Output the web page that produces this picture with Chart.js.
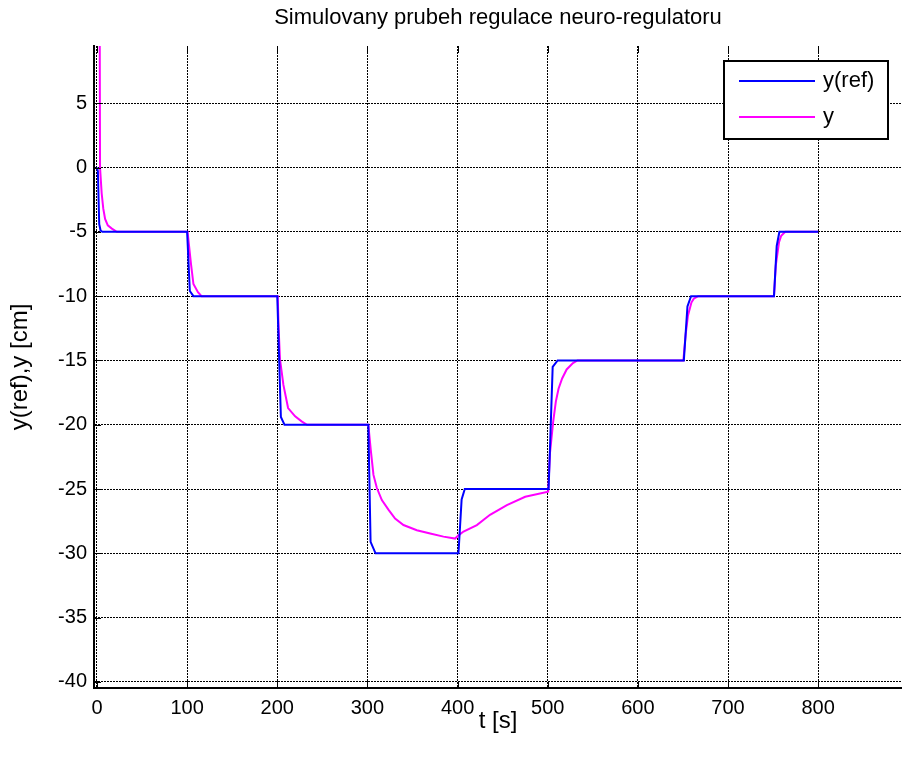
<!DOCTYPE html>
<html>
<head>
<meta charset="utf-8">
<script src="https://cdn.jsdelivr.net/npm/chart.js@4.4.0/dist/chart.umd.min.js"></script>
<style>
  html, body { margin: 0; padding: 0; background: #fff; }
  #wrap { width: 902px; height: 758px; position: relative; }
</style>
</head>
<body>
<div id="wrap"><canvas id="regChart"></canvas></div>
<script>
// reference signal y(ref) [cm] against time [s]
const refTime = [0, 1, 2.5, 4, 6,
  100, 103, 107,
  200, 204, 208,
  301, 303.5, 309,
  401, 404.5, 408,
  501, 505.5, 511,
  651, 655, 659,
  751, 754, 757,
  800];
const refValue = [0, -0.3, -4.4, -4.9, -5,
  -5, -9.6, -10,
  -10, -19.4, -20,
  -20, -29.1, -30,
  -30, -25.8, -25,
  -25, -15.5, -15,
  -15, -10.8, -10,
  -10, -6.1, -5,
  -5];

// regulated output y [cm]
const outTime = [0, 3.4, 5.2, 7, 9, 12, 16.5, 22,
  100.5, 102, 104.3, 107, 112, 116,
  200.5, 201.5, 203, 206.8, 212, 219.8, 227, 233,
  301, 303.7, 306.7, 310.4, 316, 323.3, 330.7, 340, 354.8, 369.6, 384.4, 397.3,
  401, 406.6, 421.4, 436, 454.7, 475, 500.5,
  502.5, 506, 509, 512, 516, 521, 528, 533,
  650.5, 653, 655.6, 659.4, 662, 667,
  751, 753, 756.6, 759, 763.5, 800];
const outValue = [100, 0, -2, -3.2, -4, -4.5, -4.75, -5,
  -5, -6, -7.5, -9.06, -9.7, -10,
  -10, -12.5, -14.9, -16.9, -18.7, -19.35, -19.74, -20,
  -20, -21.95, -23.9, -24.9, -25.86, -26.6, -27.3, -27.8, -28.2, -28.46, -28.7, -28.85,
  -28.6, -28.3, -27.8, -27.0, -26.25, -25.6, -25.2,
  -22.2, -19.8, -18.2, -17.2, -16.4, -15.7, -15.2, -15,
  -15, -13, -11.5, -10.5, -10.2, -10,
  -10, -7.6, -5.8, -5.3, -5, -5];

const xTicks = [0, 100, 200, 300, 400, 500, 600, 700, 800];
const yTicks = [5, 0, -5, -10, -15, -20, -25, -30, -35, -40];

const toPoints = (xs, ys) => xs.map((x, i) => ({ x: x, y: ys[i] }));

const FONT = '"Liberation Sans", Arial, sans-serif';
Chart.defaults.font.family = FONT;
Chart.defaults.color = '#000';

// MATLAB-like inward tick marks on the left, bottom and top edges
const inwardTicks = {
  id: 'inwardTicks',
  afterDraw(chart) {
    const { ctx, chartArea: a, scales: { x, y } } = chart;
    const len = 7;
    ctx.save();
    ctx.strokeStyle = '#000';
    ctx.lineWidth = 1;
    ctx.beginPath();
    xTicks.forEach(v => {
      const px = Math.round(x.getPixelForValue(v)) + 0.5;
      ctx.moveTo(px, a.bottom); ctx.lineTo(px, a.bottom - len);
      ctx.moveTo(px, a.top); ctx.lineTo(px, a.top + len);
    });
    yTicks.forEach(v => {
      const py = Math.round(y.getPixelForValue(v)) + 0.5;
      ctx.moveTo(a.left, py); ctx.lineTo(a.left + len, py);
    });
    ctx.stroke();
    ctx.restore();
  }
};

// boxed legend in the upper right corner of the axes
const legendBox = {
  id: 'legendBox',
  afterDraw(chart) {
    const { ctx, chartArea: a } = chart;
    const w = 164, h = 78;
    const bx = a.right - 14 - w, by = a.top + 15;
    ctx.save();
    ctx.fillStyle = '#fff';
    ctx.fillRect(bx, by, w, h);
    ctx.strokeStyle = '#000';
    ctx.lineWidth = 2;
    ctx.strokeRect(bx, by, w, h);
    ctx.font = '22px ' + FONT;
    ctx.textBaseline = 'middle';
    ctx.textAlign = 'left';
    chart.data.datasets.forEach((ds, i) => {
      const ly = by + 20 + i * 36;
      ctx.strokeStyle = ds.borderColor;
      ctx.lineWidth = 2;
      ctx.beginPath();
      ctx.moveTo(bx + 15, ly);
      ctx.lineTo(bx + 91, ly);
      ctx.stroke();
      ctx.fillStyle = '#000';
      ctx.fillText(ds.label, bx + 99, ly);
    });
    ctx.restore();
  }
};

new Chart(document.getElementById('regChart'), {
  type: 'line',
  data: {
    datasets: [
      {
        label: 'y(ref)',
        data: toPoints(refTime, refValue),
        borderColor: '#0000ff',
        borderWidth: 2,
        pointRadius: 0,
        tension: 0
      },
      {
        label: 'y',
        data: toPoints(outTime, outValue),
        borderColor: '#ff00ff',
        borderWidth: 2,
        pointRadius: 0,
        tension: 0
      }
    ]
  },
  options: {
    responsive: true,
    maintainAspectRatio: false,
    animation: false,
    layout: { padding: 0 },
    plugins: {
      legend: { display: false },
      tooltip: { enabled: false },
      title: {
        display: true,
        fullSize: false,
        text: 'Simulovany prubeh regulace neuro-regulatoru',
        font: { size: 22, weight: 'normal', lineHeight: 1.2 },
        color: '#000',
        padding: { top: 5, bottom: 14.6 }
      }
    },
    scales: {
      x: {
        type: 'linear',
        min: -3.3,
        max: 893,
        afterBuildTicks: s => { s.ticks = xTicks.map(v => ({ value: v })); },
        afterFit: s => { s.height = 70; },
        ticks: { font: { size: 20 }, padding: 8, maxRotation: 0 },
        grid: { color: '#000', lineWidth: 1, drawTicks: false },
        border: { display: true, color: '#000', width: 2, dash: [2, 1] },
        title: { display: true, text: 't [s]', font: { size: 24 }, padding: { top: 0, bottom: 22 } }
      },
      y: {
        min: -40.47,
        max: 9.45,
        afterBuildTicks: s => { s.ticks = yTicks.map(v => ({ value: v })); },
        afterFit: s => { s.width = 94; },
        ticks: { font: { size: 20 }, padding: 7 },
        grid: { color: '#000', lineWidth: 1, drawTicks: false },
        border: { display: true, color: '#000', width: 2, dash: [2, 1] },
        title: { display: true, text: 'y(ref),y [cm]', font: { size: 24 }, padding: { top: 6, bottom: 0 } }
      }
    }
  },
  plugins: [inwardTicks, legendBox]
});
</script>
</body>
</html>
